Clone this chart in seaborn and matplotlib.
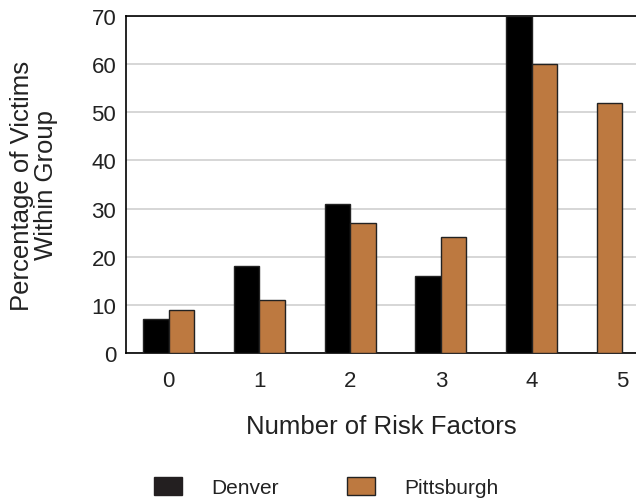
import pandas as pd
import seaborn as sns
import matplotlib.pyplot as plt
from matplotlib.patches import Patch

sns.set_theme(style="white")
plt.rcParams['font.family'] = ['Liberation Sans', 'DejaVu Sans']

# values
risk_factors = ['0', '1', '2', '3', '4', '5']
denver = [7, 18, 31, 16, 70, None]
pittsburgh = [9, 11, 27, 24, 60, 52]
cities = ['Denver', 'Pittsburgh']
colors = {'Denver': '#000000', 'Pittsburgh': '#bd7940'}

df = pd.DataFrame({'Risk Factors': risk_factors, 'Denver': denver, 'Pittsburgh': pittsburgh})
long = df.melt('Risk Factors', var_name='City', value_name='Percent')

# pairs for 0-4; at 5 only Pittsburgh, drawn in the first slot as in the original
pairs = long[long['Risk Factors'] != '5']
last = long[long['Risk Factors'] == '5']

fig = plt.figure(figsize=(6.36, 5.02), dpi=100)
ax = fig.add_axes([0.198, 0.295, 0.802, 0.671])

sns.barplot(data=pairs, x='Risk Factors', y='Percent', hue='City', order=risk_factors,
            hue_order=cities, palette=colors, width=0.56, edgecolor='#222222',
            linewidth=1, saturation=1, legend=False, ax=ax)
sns.barplot(data=last, x='Risk Factors', y='Percent', hue='City', order=risk_factors,
            hue_order=cities[::-1], palette=colors, width=0.56, edgecolor='#222222',
            linewidth=1, saturation=1, legend=False, ax=ax)
for p in ax.patches:
    p.set_zorder(3)

ax.set_ylim(0, 70)
ax.set_xlim(-0.47, 5.15)
ax.set_yticks(range(0, 71, 10))
ax.yaxis.grid(True, color='#d0d0d0', linewidth=1.2, zorder=0)
ax.set_axisbelow(True)
for side in ['left', 'bottom', 'top']:
    ax.spines[side].set_color('black')
    ax.spines[side].set_linewidth(1.2)
ax.spines['right'].set_visible(False)
ax.tick_params(axis='y', labelsize=16, colors='#222222', length=0, pad=7)
ax.tick_params(axis='x', labelsize=16, colors='#222222', length=0, pad=12)

ax.set_xlabel('Number of Risk Factors', fontsize=18.5, color='#222222', labelpad=17)
ax.set_ylabel('Percentage of Victims\nWithin Group', fontsize=18.5, color='#222222',
              labelpad=24, linespacing=1.0)

handles = [Patch(facecolor='#231f20', edgecolor='#231f20', label='Denver'),
           Patch(facecolor=colors['Pittsburgh'], edgecolor='#222222', label='Pittsburgh')]
fig.legend(handles=handles, loc='center', bbox_to_anchor=(0.513, 0.028), ncol=2, frameon=False,
           fontsize=15, handlelength=1.35, handleheight=1.0, handletextpad=1.4,
           columnspacing=3.3, labelcolor='#222222')

fig.savefig('out.png', dpi=100)
